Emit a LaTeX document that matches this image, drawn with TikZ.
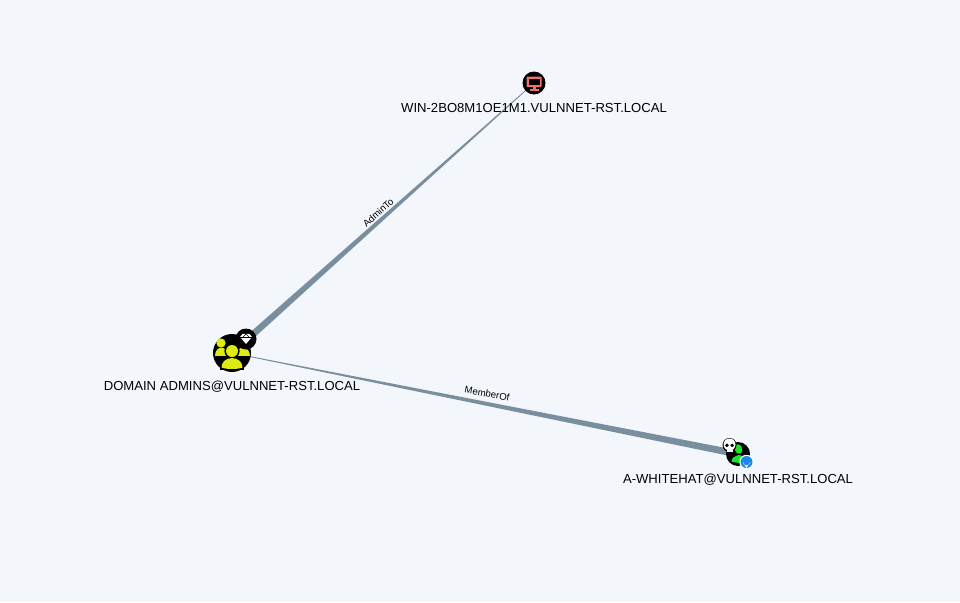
\documentclass[tikz,border=0pt]{standalone}
\usepackage{fontspec}
\setmainfont{Liberation Sans}
\usetikzlibrary{calc}
\definecolor{bgc}{HTML}{F3F6FB}
\definecolor{edgec}{HTML}{7A8F9E}
\definecolor{dayellow}{HTML}{DDEB10}
\definecolor{ugreen}{HTML}{17E625}
\definecolor{pcred}{HTML}{F0706A}
\definecolor{pinblue}{HTML}{1E88E5}
\tikzset{
  x=1pt,y=-1pt,
  nodedot/.style={circle,fill=black,inner sep=0pt,minimum size=#1},
  lab/.style={font=\fontsize{13.1}{16}\selectfont,text=black,inner sep=0pt,anchor=base},
  elab/.style={font=\fontsize{9.6}{11}\selectfont,text=black,inner sep=0pt,anchor=base},
  taper/.style={fill=edgec,draw=none},
}
\begin{document}
\begin{tikzpicture}
\useasboundingbox (0,0) rectangle (960,602);
\fill[bgc] (0,0) rectangle (960,602);
% nodes
\coordinate (dac) at (232,353);
\coordinate (winc) at (534,83);
\coordinate (wac) at (738,454);
% connectors
\fill[taper] ($(dac)!3.6pt!90:(winc)$) -- ($(winc)!0.3pt!-90:(dac)$) -- ($(winc)!0.3pt!90:(dac)$) -- ($(dac)!3.6pt!-90:(winc)$) -- cycle;
\fill[taper] ($(wac)!3.6pt!90:(dac)$) -- ($(dac)!0.3pt!-90:(wac)$) -- ($(dac)!0.3pt!90:(wac)$) -- ($(wac)!3.6pt!-90:(dac)$) -- cycle;
% Domain admins
\node[nodedot=38pt] (da) at (dac) {};
\fill[dayellow] (221,343) circle (4.6);
\fill[dayellow] (214.5,355.5) .. controls (214.5,344.5) and (228,344.5) .. (228,355.5) -- cycle;
\fill[dayellow] (249.5,355.5) .. controls (249.5,344.5) and (236,344.5) .. (236,355.5) -- cycle;
\fill[black] (232,351) circle (7.6);
\fill[dayellow] (232,351) circle (6);
\fill[black] (220,370) .. controls (220,353) and (244,353) .. (244,370) -- cycle;
\fill[dayellow] (221.5,367.5) .. controls (221.5,355) and (242.5,355) .. (242.5,367.5) .. controls (238,369.5) and (226,369.5) .. (221.5,367.5) -- cycle;
\node[nodedot=21pt] (dab) at (246,339) {};
\fill[white] (240,337) -- (242.5,333.8) -- (249.5,333.8) -- (252,337) -- (246,344) -- cycle;
\draw[black,line width=0.6pt] (240,337) -- (252,337);
\draw[black,line width=0.5pt] (243,337) -- (246,334) -- (249,337);
% Win
\node[nodedot=23pt] (win) at (winc) {};
\fill[pcred,rounded corners=0.8pt] (526.5,76.5) rectangle (541.5,87);
\fill[black] (528.5,78.5) rectangle (539.5,84.5);
\fill[pcred] (532.5,87) rectangle (535.5,89.5);
\fill[pcred] (529.5,89) rectangle (538.5,90.5);
% Whitehat
\node[nodedot=24pt] (wa) at (wac) {};
\fill[ugreen,rotate around={20:(738.5,449)}] (738.5,449) ellipse (3.8 and 5);
\fill[ugreen] (731.5,462) .. controls (731.5,454) and (744,453) .. (744,459) -- (740,463) -- cycle;
\node[circle,fill=white,inner sep=0pt,minimum size=14.5pt] (wab) at (746.5,462) {};
\fill[pinblue] (746.5,462) circle (6);
\fill[white] (746.5,468) -- (742.6,461.6) arc (180:0:3.9) -- cycle;
\fill[pinblue] (746.5,461.4) circle (1.5);
\fill[black] (729.5,445) circle (7);
\fill[white] (729.5,444.5) circle (6);
\fill[white] (726.5,446) rectangle (732.5,451.5);
\fill[black] (726.9,445.3) circle (1.9);
\fill[black] (732.1,445.3) circle (1.9);
% labels
\node[lab] (lwin) at (534,112.5) {WIN-2BO8M1OE1M1.VULNNET-RST.LOCAL};
\node[lab] (lda) at (232,390.5) {DOMAIN ADMINS@VULNNET-RST.LOCAL};
\node[lab] (lwa) at (738,483.5) {A-WHITEHAT@VULNNET-RST.LOCAL};
\node[elab,rotate=41.8] (e1) at (380.5,215) {AdminTo};
\node[elab,rotate=-10.6] (e2) at (486.5,397) {MemberOf};
\end{tikzpicture}
\end{document}
